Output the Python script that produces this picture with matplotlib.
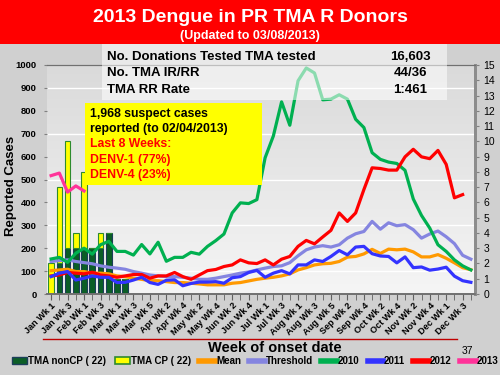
import numpy as np
import matplotlib
matplotlib.use("Agg")
import matplotlib.pyplot as plt
from matplotlib.patches import Rectangle, Patch
from matplotlib.lines import Line2D
from matplotlib.ticker import MultipleLocator

plt.rcParams['font.family'] = ['Liberation Sans', 'DejaVu Sans']

# ---- data ----
tick_labels = ["Jan Wk 1", "Jan Wk 3", "Feb Wk 1", "Feb Wk 3", "Mar Wk 1", "Mar Wk 3",
               "Mar Wk 5", "Apr Wk 2", "Apr Wk 4", "May Wk 2", "May Wk 4", "Jun Wk 2",
               "Jun Wk 4", "Jul Wk 1", "Jul Wk 3", "Aug Wk 1", "Aug Wk 3", "Aug Wk 5",
               "Sep Wk 2", "Sep Wk 4", "Oct Wk 2", "Oct Wk 4", "Nov Wk 2", "Nov Wk 4",
               "Dec Wk 1", "Dec Wk 3"]
n_weeks = 52

# TMA reactive donors per week (right axis)
tma_noncp = [0, 2, 3, 3, 3, 3, 3, 4, 1, 1]
tma_cp = [2, 5, 7, 1, 5, 0, 1, 0, 0, 0]

# reported cases per week (left axis)
mean_cases = [102, 105, 108, 98, 98, 91, 91, 88, 79, 76, 69, 64, 58, 58, 54, 50, 50, 47, 44, 40,
              40, 40, 47, 50, 57, 64, 69, 73, 79, 88, 105, 115, 127, 132, 134, 142, 161, 164, 175, 195,
              177, 196, 193, 196, 184, 162, 162, 172, 156, 136, 115, 106]
threshold = [142, 146, 149, 142, 137, 132, 123, 117, 113, 108, 98, 91, 83, 79, 76, 76, 73, 69, 64, 64,
             69, 76, 83, 91, 96, 105, 113, 120, 123, 137, 167, 193, 205, 211, 205, 215, 244, 263, 273, 317,
             283, 311, 298, 303, 281, 244, 262, 275, 250, 220, 169, 152]
cases_2010 = [153, 160, 138, 178, 200, 174, 215, 230, 186, 186, 170, 216, 175, 226, 143, 160, 160, 182, 174, 208,
              233, 262, 354, 398, 395, 412, 595, 690, 839, 737, 931, 987, 965, 848, 851, 870, 851, 763, 727, 617,
              588, 576, 570, 540, 415, 343, 288, 215, 186, 149, 123, 105]
cases_2011 = [76, 91, 98, 61, 69, 79, 73, 73, 50, 51, 61, 73, 50, 42, 60, 62, 36, 46, 52, 52,
              54, 47, 71, 76, 94, 103, 73, 91, 102, 88, 127, 127, 149, 142, 164, 190, 171, 205, 208, 176,
              166, 164, 136, 162, 115, 118, 104, 109, 117, 78, 58, 51]
cases_2012 = [79, 83, 94, 91, 88, 95, 83, 79, 73, 79, 85, 85, 69, 79, 79, 94, 76, 64, 83, 102,
              107, 120, 127, 149, 136, 133, 149, 127, 152, 164, 208, 234, 219, 249, 278, 354, 317, 354, 456, 551,
              548, 541, 541, 599, 632, 599, 591, 627, 566, 420, 434]
cases_2013 = [517, 528, 445, 472, 450]

table_rows = [("No. Donations Tested TMA tested", "16,603"),
              ("No. TMA IR/RR", "44/36"),
              ("TMA RR Rate", "1:461")]

x = np.arange(n_weeks)

fig = plt.figure(figsize=(5, 3.75), dpi=100, facecolor='#d0d0d0')

# red header band
fig.patches.append(Rectangle((0, 1 - 44 / 375), 1, 44 / 375, transform=fig.transFigure,
                             facecolor='#ff0000', edgecolor='none', zorder=1))
fig.text(0.5, 1 - 18 / 375, "2013 Dengue in PR TMA R Donors", color='white',
         fontsize=14, fontweight='bold', ha='center', va='center', zorder=2)
fig.text(0.5, 1 - 36 / 375, "(Updated to 03/08/2013)", color='white',
         fontsize=9, fontweight='bold', ha='center', va='center', zorder=2)

ax = fig.add_axes([47 / 500, 1 - 294 / 375, 428 / 500, 229 / 375])
ax2 = ax.twinx()
ax.set_zorder(ax2.get_zorder() + 1)
ax.patch.set_visible(False)

# plot-area gradient
grad = np.linspace(0, 1, 100).reshape(-1, 1)
ax2.imshow(grad, cmap=matplotlib.colors.LinearSegmentedColormap.from_list('g', ['#f5f5f5', '#dadada']),
           aspect='auto', extent=[0, 1, 1, 0], transform=ax2.transAxes, zorder=0)

# bars on the right axis
ax2.bar(x[:len(tma_noncp)], tma_noncp, width=0.68, color='#0b5e26', edgecolor='#1c3d5a', lw=0.8, zorder=2)
ax2.bar(x[:len(tma_cp)], tma_cp, bottom=tma_noncp, width=0.68, color='#ffff00',
        edgecolor='#2e8b2e', lw=0.8, zorder=2)
ax2.set_ylim(0, 15)
ax2.set_yticks(range(0, 16))
ax2.yaxis.set_minor_locator(MultipleLocator(1.5))
ax2.set_axisbelow(True)
ax2.grid(which='minor', axis='y', color='white', lw=1)
ax2.tick_params(axis='y', which='major', labelsize=7.5, length=3, color='#808080', pad=3)
ax2.tick_params(axis='y', which='minor', length=0)

# lines on the left axis
lw = 2.3
ax.plot(x, threshold, color='#8585e0', lw=lw, label='Threshold', zorder=3)
ax.plot(x, mean_cases, color='#ff9900', lw=lw, label='Mean', zorder=3)
ax.plot(x, cases_2010, color='#00b050', lw=lw, label='2010', zorder=3)
ax.plot(x[:len(cases_2012)], cases_2012, color='#ff0000', lw=lw, label='2012', zorder=4)
ax.plot(x, cases_2011, color='#3333ff', lw=lw, label='2011', zorder=4)
ax.plot(x[:len(cases_2013)], cases_2013, color='#ff3399', lw=lw, label='2013', zorder=5)

ax.set_xlim(-0.5, n_weeks - 0.5)
ax.set_ylim(0, 1000)
ax.set_yticks(range(0, 1001, 100))
ax.tick_params(axis='y', labelsize=6.8, length=2.5, color='#808080', pad=5)
for t in ax.get_yticklabels():
    t.set_fontweight('bold')
ax.set_xticks(x[::2])
ax.set_xticks(x, minor=True)
ax.set_xticklabels(tick_labels, rotation=45, ha='right', rotation_mode='anchor',
                   fontsize=6.6, fontweight='bold')
ax.tick_params(axis='x', which='both', length=4, color='#606060', pad=1)

for a in (ax, ax2):
    a.spines['left'].set_visible(False)
    a.spines['top'].set_color('#707070')
    a.spines['bottom'].set_color('#707070')
    a.spines['bottom'].set_linewidth(1.2)
    a.spines['right'].set_color('#8c8c8c')
    a.spines['right'].set_linewidth(2)

fig.text(11 / 500, 1 - 186 / 375, "Reported Cases", rotation=90, fontsize=9.5,
         fontweight='bold', ha='center', va='center')
fig.text(275 / 500, 1 - 348 / 375, "Week of onset date", fontsize=10.5,
         fontweight='bold', ha='center', va='center')
fig.add_artist(Line2D([43 / 500, 457 / 500], [1 - 339 / 375] * 2, color='#c00000', lw=1))
fig.text(467 / 500, 1 - 351 / 375, "37", fontsize=7.5, ha='center', va='center')

# table box (semi transparent)
fig.patches.append(Rectangle((102 / 500, 1 - 100 / 375), 345 / 500, 56 / 375, transform=fig.transFigure,
                             facecolor='white', alpha=0.55, edgecolor='none', zorder=5))
for i, (lab, val) in enumerate(table_rows):
    yy = 1 - (57 + 16.5 * i) / 375
    fig.text(107 / 500, yy, lab, fontsize=9.5, fontweight='bold', ha='left', va='center', zorder=6)
    fig.text(410 / 500, yy, val, fontsize=9.5, fontweight='bold', ha='center', va='center', zorder=6)

# yellow note box
fig.patches.append(Rectangle((85 / 500, 1 - 185 / 375), 177 / 500, 82 / 375, transform=fig.transFigure,
                             facecolor='#ffff00', edgecolor='none', zorder=5))
note = [("1,968 suspect cases", 'black'), ("reported (to 02/04/2013)", 'black'),
        ("Last 8 Weeks:", '#ff0000'), ("DENV-1 (77%)", '#ff0000'), ("DENV-4 (23%)", '#ff0000')]
for i, (txt, c) in enumerate(note):
    fig.text(90 / 500, 1 - (114 + 15.2 * i) / 375, txt, color=c, fontsize=8.8,
             fontweight='bold', ha='left', va='center', zorder=6)

# legend
handles = [Patch(facecolor='#0b5e26', edgecolor='#1c3d5a'),
           Patch(facecolor='#ffff00', edgecolor='#2e8b2e', lw=1.2),
           Line2D([], [], color='#ff9900', lw=4),
           Line2D([], [], color='#8585e0', lw=4),
           Line2D([], [], color='#00b050', lw=4),
           Line2D([], [], color='#3333ff', lw=4),
           Line2D([], [], color='#ff0000', lw=4),
           Line2D([], [], color='#ff3399', lw=4)]
labels = ["TMA nonCP ( 22)", "TMA CP ( 22)", "Mean", "Threshold", "2010", "2011", "2012", "2013"]
fig.legend(handles, labels, loc='center', bbox_to_anchor=(0.51, 1 - 361 / 375), ncol=8,
           frameon=False, prop={'size': 7, 'weight': 'bold'}, handlelength=1.6,
           handleheight=0.6, handletextpad=0.1, columnspacing=0.85, borderpad=0)

fig.savefig("out.png", dpi=100, facecolor=fig.get_facecolor())
